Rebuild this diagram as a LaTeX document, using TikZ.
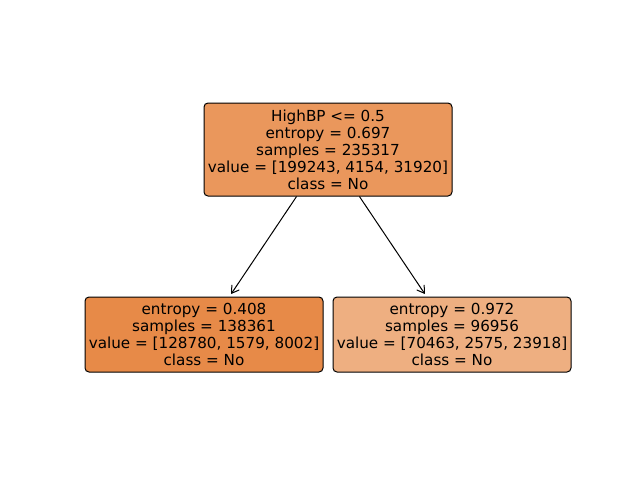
\documentclass[tikz,border=0pt]{standalone}
\usepackage{fontspec}
\setmainfont{DejaVu Sans}
\usetikzlibrary{arrows.meta}
\definecolor{ctop}{RGB}{234,151,92}
\definecolor{cleft}{RGB}{231,138,72}
\definecolor{cright}{RGB}{238,175,129}
\tikzset{
  treenode/.style={draw=black, line width=1pt, rounded corners=4pt, align=center,
    inner sep=0pt, font=\fontsize{15.2}{17}\selectfont, text=black},
  edge/.style={-{Straight Barb[length=7pt,width=9pt,line width=1pt]}, line width=1pt, shorten >=3pt}
}
\begin{document}
\begin{tikzpicture}[x=1pt,y=-1pt]
\useasboundingbox (0,0) rectangle (640,480);
\node[treenode, fill=ctop, minimum width=248pt, minimum height=93pt] (top) at (328,149.5)
  {HighBP <= 0.5\\entropy = 0.697\\samples = 235317\\value = [199243, 4154, 31920]\\class = No};
\node[treenode, fill=cleft, minimum width=238pt, minimum height=75pt] (left) at (204,334.5)
  {entropy = 0.408\\samples = 138361\\value = [128780, 1579, 8002]\\class = No};
\node[treenode, fill=cright, minimum width=238pt, minimum height=75pt] (right) at (452,334.5)
  {entropy = 0.972\\samples = 96956\\value = [70463, 2575, 23918]\\class = No};
\draw[edge] (top) -- (left);
\draw[edge] (top) -- (right);
\end{tikzpicture}
\end{document}
